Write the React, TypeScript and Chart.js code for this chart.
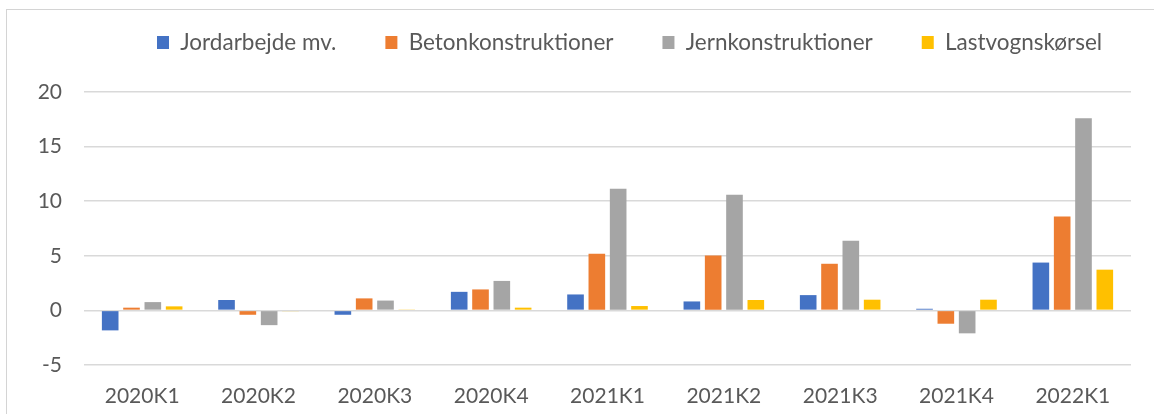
import { useEffect, useRef } from "react";
import { Chart, registerables } from "chart.js";

Chart.register(...registerables);

const categories = ["2020K1", "2020K2", "2020K3", "2020K4", "2021K1", "2021K2", "2021K3", "2021K4", "2022K1"];
const seriesNames = ["Jordarbejde mv.", "Betonkonstruktioner", "Jernkonstruktioner", "Lastvognskørsel"];
const jordarbejde = [-1.83, 0.95, -0.4, 1.7, 1.46, 0.82, 1.4, 0.15, 4.38];
const beton = [0.25, -0.4, 1.1, 1.92, 5.18, 5.03, 4.27, -1.22, 8.6];
const jern = [0.76, -1.35, 0.9, 2.7, 11.13, 10.6, 6.38, -2.1, 17.6];
const lastvogn = [0.37, -0.08, 0.05, 0.25, 0.4, 0.95, 0.98, 0.98, 3.73];
const seriesColors = ["#4472C4", "#ED7D31", "#A5A5A5", "#FFC000"];
const yMin = -5;
const yMax = 20;
const yStep = 5;

const FONT = "Lato, 'Open Sans', sans-serif";
const TEXT = "#595959";
const GRID = "#d9d9d9";

const LEGEND_PAD = 49;
const LEGEND_X = 157;
const LEGEND_CY = 42.5;
const LEGEND_FONT = 22.5;
const PLOT_TOP = 92;

const legendShift = {
  id: "legendShift",
  afterLayout(chart: any) {
    const lg = chart.legend;
    if (!lg) return;
    const dx = LEGEND_X - LEGEND_PAD - lg.left;
    lg.left += dx;
    lg.right += dx;
    const targetTop = LEGEND_CY - LEGEND_FONT / 2 - LEGEND_PAD;
    const dy = targetTop - lg.top;
    lg.top += dy;
    lg.bottom += dy;
  },
};

export default function App() {
  const ref = useRef<HTMLCanvasElement | null>(null);

  useEffect(() => {
    if (!ref.current) return;
    const values = [jordarbejde, beton, jern, lastvogn];
    const chart = new Chart(ref.current, {
      type: "bar",
      data: {
        labels: categories,
        datasets: seriesNames.map((name, i) => ({
          label: name,
          data: values[i],
          backgroundColor: seriesColors[i],
          borderWidth: 0,
          categoryPercentage: 0.733,
          barPercentage: 0.78,
        })),
      },
      options: {
        responsive: false,
        animation: false,
        layout: { padding: { left: 0, right: 23, top: 0, bottom: 0 } },
        plugins: {
          tooltip: { enabled: false },
          legend: {
            display: true,
            position: "top",
            align: "start",
            labels: {
              boxWidth: 12,
              boxHeight: 13,
              padding: LEGEND_PAD,
              color: TEXT,
              font: { family: FONT, size: LEGEND_FONT },
            },
          },
        },
        scales: {
          x: {
            grid: { display: false },
            border: { display: false },
            ticks: {
              color: TEXT,
              font: { family: FONT, size: 21 },
              padding: 11,
              maxRotation: 0,
            },
            afterFit: (scale: any) => {
              scale.height = 49;
            },
          },
          y: {
            min: yMin,
            max: yMax,
            grid: { color: GRID, lineWidth: 1.5, drawTicks: false },
            border: { display: false },
            ticks: {
              stepSize: yStep,
              color: TEXT,
              font: { family: FONT, size: 21 },
              padding: 22,
            },
            afterFit: (scale: any) => {
              scale.width = 84;
            },
          },
        },
      },
      plugins: [legendShift],
    });
    // place the top gridline (20) at the reference position
    const top = chart.chartArea.top;
    if (Math.abs(top - PLOT_TOP) > 0.5) {
      (chart.options.layout as any).padding = { left: 0, right: 23, top: PLOT_TOP - top, bottom: 0 };
      chart.update();
    }
    return () => chart.destroy();
  }, []);

  return (
    <div
      style={{
        position: "fixed",
        left: 0,
        top: 0,
        width: 1154,
        height: 414,
        overflow: "hidden",
        background: "#fff",
      }}
    >
      <div
        style={{
          position: "absolute",
          left: 6,
          top: 9,
          width: 1300,
          height: 600,
          border: "1px solid #d4d4d4",
          boxSizing: "border-box",
        }}
      />
      <canvas
        ref={ref}
        width={1154}
        height={414}
        style={{ position: "absolute", left: 0, top: 0, width: 1154, height: 414 }}
      />
    </div>
  );
}
